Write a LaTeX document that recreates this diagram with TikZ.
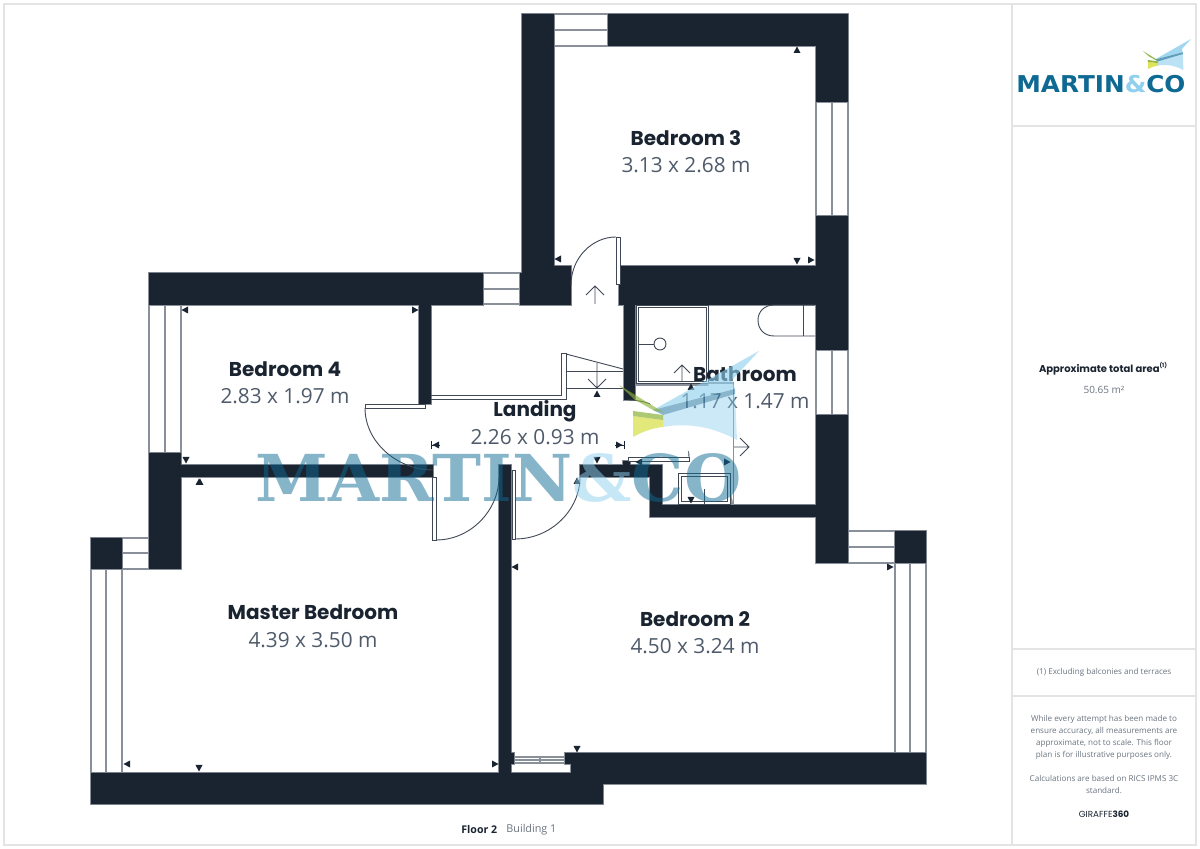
\documentclass[tikz,border=0pt]{standalone}
\usepackage{fontspec}
\setmainfont{Open Sans}
\newfontfamily\labfont{Poppins}
\definecolor{wall}{HTML}{1A2330}
\definecolor{wedge}{HTML}{8A9099}
\definecolor{line}{HTML}{3F4854}
\definecolor{title}{HTML}{1A2330}
\definecolor{dim}{HTML}{4F5B6B}
\definecolor{small}{HTML}{6B7480}
\definecolor{frame}{HTML}{E4E4E4}
\definecolor{brand}{HTML}{0F6A93}
\definecolor{brandlight}{HTML}{8FD0EE}
\definecolor{birdblue}{HTML}{8FD0EE}
\definecolor{birddark}{HTML}{3D86AD}
\definecolor{birdgreen}{HTML}{8DB33A}
\definecolor{birdyellow}{HTML}{DDE35A}
\tikzset{
  win/.style={draw=wedge,fill=white,line width=0.6pt},
  fix/.style={draw=line,line width=0.45pt},
  leaf/.style={draw=line,fill=white,line width=0.45pt},
  pane/.style={draw=frame,line width=0.6pt},
  roomname/.style={font=\labfont\bfseries\fontsize{10}{12}\selectfont,text=title,anchor=center,inner sep=0},
  roomdim/.style={font=\fontsize{10.4}{12}\selectfont,text=dim,anchor=center,inner sep=0},
  note/.style={font=\fontsize{4.05}{6}\selectfont,text=small,align=center,anchor=center,inner sep=0}
}
\newcommand{\wallpath}{
  (522,14) rectangle (554,305) (522,14) rectangle (554,46)
  (608,14) rectangle (848,46)
  (816,14) rectangle (848,102)
  (816,216) rectangle (848,350)
  (816,415) rectangle (848,563)
  (554,266) rectangle (571,305)
  (619,266) rectangle (816,305)
  (149,273) rectangle (483,305)
  (520,273) rectangle (522,305)
  (149,273) rectangle (181,305)
  (149,453) rectangle (181,569)
  (181,465) rectangle (433,477)
  (91,538) rectangle (122,569)
  (419,305) rectangle (431,404)
  (624,305) rectangle (635,400)
  (499,465) rectangle (511,773)
  (499,753) rectangle (514,764)
  (91,773) rectangle (603,804)
  (571,753) rectangle (926,784)
  (565,753) rectangle (571,764)
  (580,465) rectangle (662,477)
  (623,461) rectangle (630,465)
  (650,465) rectangle (662,517)
  (650,505) rectangle (816,517)
  (895,531) rectangle (926,563)
}
\newcommand{\tick}[4]{\fill[wall] ({#1+3.5*(#3)},{#2+3.5*(#4)}) -- ({#1-3*(#3)+3.5*(#4)},{#2-3*(#4)+3.5*(#3)}) -- ({#1-3*(#3)-3.5*(#4)},{#2-3*(#4)-3.5*(#3)}) -- cycle;}
\newcommand{\bird}[1]{
  \fill[birdblue,fill opacity=#1*.62] (759,351) -- (653,410) -- (735,389) -- (732,380) -- cycle;
  \fill[birdblue,fill opacity=#1*.45] (735,394) -- (663,415) -- (663,427) .. controls (690,422) and (715,428) .. (737,440) -- cycle;
  \fill[birddark,fill opacity=#1*.6] (653,410) -- (735,389) -- (735,394) -- (663,415) -- cycle;
  \fill[birdgreen,fill opacity=#1*.65] (619,385) -- (663,412) -- (655,411) -- (635,400) -- cycle;
  \fill[birdyellow,fill opacity=#1*.8] (633,416) -- (663,420) -- (663,427) .. controls (652,428) and (642,432) .. (633,437) -- cycle;
  \fill[birdgreen,fill opacity=#1*.7] (633,411) -- (663,415) -- (663,420) -- (633,416) -- cycle;
}
\begin{document}
\begin{tikzpicture}[x=0.5pt,y=-0.5pt]
\useasboundingbox (0,0) rectangle (1200,849);
\fill[white] (0,0) rectangle (1200,849);
% page frame and side panel
\draw[pane] (4,4) rectangle (1196,845);
\draw[pane] (1012,4) -- (1012,845);
\draw[pane] (1012,126) -- (1196,126);
\draw[pane] (1012,649) -- (1196,649);
\draw[pane] (1012,696) -- (1196,696);
% windows
\draw[win] (554,14) rectangle (608,46); \draw[win] (554,30) -- (608,30);
\draw[win] (816,102) rectangle (848,216); \draw[win] (832,102) -- (832,216);
\draw[win] (816,350) rectangle (848,415); \draw[win] (832,350) -- (832,415);
\draw[win] (483,273) rectangle (520,304); \draw[win] (483,289) -- (520,289);
\draw[win] (149,305) rectangle (181,453); \draw[win] (165,305) -- (165,453);
\draw[win] (122,538) rectangle (149,569); \draw[win] (122,553) -- (149,553);
\draw[win] (91,569) rectangle (122,773); \draw[win] (106,569) -- (106,773);
\draw[win] (848,531) rectangle (895,563); \draw[win] (848,547) -- (895,547);
\draw[win] (895,563) rectangle (926,753); \draw[win] (910,563) -- (910,753);
\draw[win] (514,757) rectangle (565,763); \draw[win] (514,760) -- (565,760); \draw[win] (540,758) -- (540,762);
% walls
\draw[wedge,line width=1pt] \wallpath;
\fill[wall] \wallpath;
% doors
\draw[leaf] (365,404) rectangle (425,408);
\draw[fix] (365,408) .. controls (365,442) and (397,470) .. (433,470);
\draw[leaf] (432,477) rectangle (436,540);
\draw[fix] (436,540) .. controls (471,540) and (499,510) .. (499,477);
\draw[leaf] (512,470) rectangle (515,539);
\draw[fix] (515,539) .. controls (551,539) and (580,510) .. (580,477);
\draw[leaf] (616,237) rectangle (620,284);
\draw[fix] (616,237) .. controls (592,237) and (571,258) .. (571,285);
\draw[leaf] (628,457) rectangle (689,461);
\draw[fix] (628,400) .. controls (662,400) and (689,426) .. (689,458);
% door arrows
\draw[fix] (595,304) -- (595,286) (586,295) -- (595,286) -- (604,295);
\draw[fix] (732,447) -- (749,447) (740,438) -- (749,447) -- (740,456);
% stairs
\draw[fix] (431,395) -- (561,395) -- (561,353) -- (566,353) -- (566,399) -- (431,399);
\draw[fix] (566,354) -- (623,369);
\draw[fix] (566,371) -- (623,371) (566,388) -- (623,388);
\draw[fix] (597,363) -- (597,388) (588,379) -- (597,388) -- (606,379);
% shower
\draw[leaf] (636,305) rectangle (708,383);
\draw[fix] (638,307) rectangle (706,381);
\draw[fix] (638,344) -- (654,344);
\draw[fix] (660,344) circle[radius=6];
\draw[fix] (682,381) -- (682,365) (674,373) -- (682,365) -- (690,373);
% partition
\draw[win] (635,385) -- (732,385) -- (732,505);
\draw[win] (708,383) -- (733.5,383) -- (733.5,505);
% toilet
\draw[fix] (815,305) -- (774,305) .. controls (764,305) and (758,312) .. (758,320) .. controls (758,329) and (764,336) .. (774,336) -- (815,336);
\draw[fix] (803,305) -- (803,336);
% basin
\draw[leaf] (678,473) rectangle (730,504);
\draw[fix] (681,476) rectangle (727,501);
\draw[fix] (704,489) -- (704,504);
% measure ticks
\tick{797}{50}{0}{-1} \tick{797}{261}{0}{1} \tick{811}{260}{1}{0} \tick{558}{259}{-1}{0}
\tick{185}{310}{-1}{0} \tick{415}{310}{1}{0} \tick{186}{460}{0}{1} \tick{200}{482}{0}{-1}
\tick{127}{764}{-1}{0} \tick{199}{768}{0}{1} \tick{495}{764}{1}{0} \tick{199}{482}{0}{-1}
\tick{515}{567}{-1}{0} \tick{890}{567}{1}{0} \tick{577}{749}{0}{1} \tick{577}{481}{0}{-1}
\tick{597}{394}{0}{-1} \tick{597}{460}{0}{1} \tick{436}{445}{-1}{0} \tick{619}{445}{1}{0}
\tick{691}{387}{0}{-1} \tick{691}{500}{0}{1} \tick{639}{462}{-1}{0} \tick{727}{462}{1}{0}
\draw[wall,line width=.4pt] (431,441) -- (431,449) (431,445) -- (440,445) (624,441) -- (624,449) (615,445) -- (624,445);
% room labels
\node[roomname] (n3) at (686,138) {Bedroom 3};
\node[roomdim] (d3) at (686,165) {3.13 x 2.68 m};
\node[roomname] (n4) at (285,369) {Bedroom 4};
\node[roomdim] (d4) at (285,396) {2.83 x 1.97 m};
\node[roomname] (nb) at (745,374) {Bathroom};
\node[roomdim] (db) at (745,401) {1.17 x 1.47 m};
\node[roomname] (nl) at (535,411) {Landing};
\node[roomdim] (dl) at (535,437) {2.26 x 0.93 m};
\node[roomname] (nm) at (313,612) {Master Bedroom};
\node[roomdim] (dm) at (313,640) {4.39 x 3.50 m};
\node[roomname] (n2) at (695,619) {Bedroom 2};
\node[roomdim] (d2) at (695,646) {4.50 x 3.24 m};
% watermark
\node[inner sep=0,anchor=north west,text opacity=.5] (mark) at (255,453) {\resizebox{243pt}{24pt}{\fontspec{DejaVu Serif}\bfseries\textcolor{brand}{MARTIN}\textcolor{brandlight}{\&}\textcolor{brand}{CO}}};
\bird{1}
% logo
\node[inner sep=0,anchor=north west] (logo) at (1016,74.5) {\resizebox{84.5pt}{8.6pt}{\fontspec{DejaVu Sans}\bfseries\textcolor{brand}{MARTIN}\textcolor{brandlight}{\&}\textcolor{brand}{CO}}};
\begin{scope}[shift={(1143,39)},xscale=.343,yscale=.35,shift={(-619,-351)}] \bird{1.35} \end{scope}
% side panel text
\node[inner sep=0,font=\labfont\bfseries\fontsize{5}{7}\selectfont,text=title] (area) at (1103,369) {Approximate total area\raisebox{2.4pt}{\fontsize{2.8}{3}\selectfont(1)}};
\node[note,font=\fontsize{5}{7}\selectfont] (areav) at (1104,390) {50.65 m²};
\node[note] (excl) at (1104,672) {(1) Excluding balconies and terraces};
\node[note] (disc) at (1104,737) {While every attempt has been made to\\ensure accuracy, all measurements are\\approximate, not to scale. This floor\\plan is for illustrative purposes only.};
\node[note] (calc) at (1104,784) {Calculations are based on RICS IPMS 3C\\standard.};
\node[inner sep=0,font=\labfont\fontsize{4.4}{7}\selectfont,text=title] (gir) at (1104,814) {GIRAFFE\textbf{360}};
% footer
\node[inner sep=0,anchor=west,font=\fontsize{5.3}{7}\selectfont\bfseries,text=title] (fl) at (461,830) {Floor 2};
\node[inner sep=0,anchor=west,font=\fontsize{5.4}{7}\selectfont,text=small] (bl) at (506,830) {Building 1};
\end{tikzpicture}
\end{document}
